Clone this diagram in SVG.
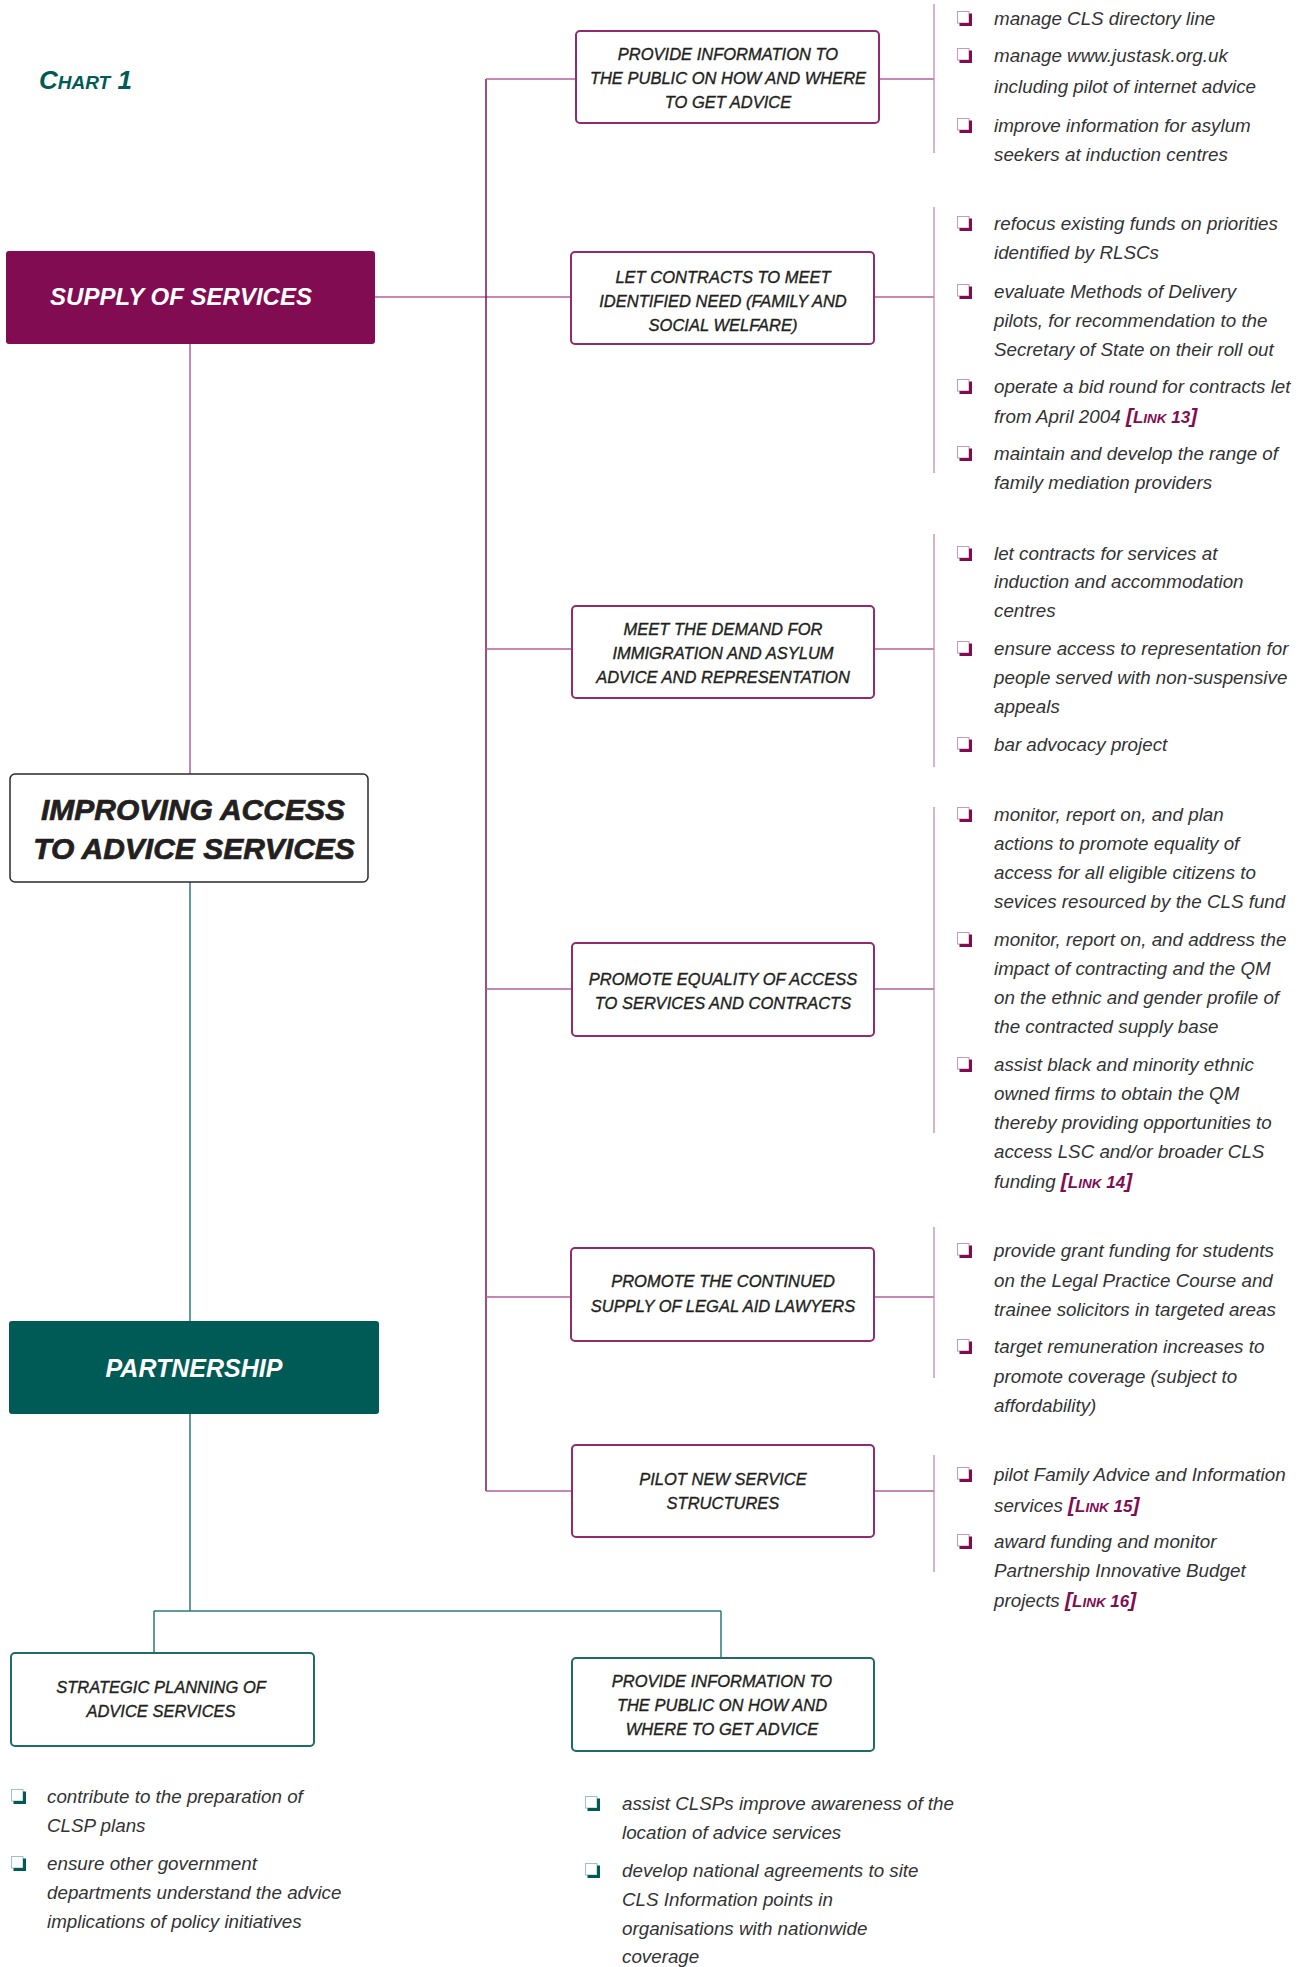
<svg xmlns="http://www.w3.org/2000/svg" xmlns:xlink="http://www.w3.org/1999/xlink" width="1308" height="1967" viewBox="0 0 1308 1967">
<style>
.bg{fill:#fff}
.box{fill:#fff;stroke:#8f2d6c;stroke-width:2}
.tbox{fill:#fff;stroke:#1f6b66;stroke-width:2}
.lbl{font-family:"Liberation Sans",Arial,sans-serif;font-style:italic;font-size:16.5px;fill:#231f20;stroke:#231f20;stroke-width:0.35;text-anchor:middle}
.it{font-family:"Liberation Sans",Arial,sans-serif;font-style:italic;font-size:18.8px;fill:#333}
.lk{fill:#820c52;font-weight:bold}
.big{font-family:"Liberation Sans",Arial,sans-serif;font-style:italic;font-weight:bold;text-anchor:middle}
.conM{stroke:#b4629a;stroke-width:1.5;fill:none}
.trunk{stroke:#7d1356;stroke-width:1.5;fill:none}
.bar{stroke:#c48aad;stroke-width:1.3;fill:none}
.conT{stroke:#2d7c76;stroke-width:1.5;fill:none}
</style>
<defs>
<g id="cbm"><rect x="0.5" y="0.5" width="11.5" height="11.5" fill="#fff" stroke="#c79ab6" stroke-width="1"/><path d="M2.5 13.5 H13.5 V2.5" stroke="#820c52" stroke-width="3" fill="none"/></g>
<g id="cbt"><rect x="0.5" y="0.5" width="11.5" height="11.5" fill="#fff" stroke="#9cc3bf" stroke-width="1"/><path d="M2.5 13.5 H13.5 V2.5" stroke="#005a55" stroke-width="3" fill="none"/></g>
</defs>
<rect class="bg" x="0" y="0" width="1308" height="1967"/>

<text id="title" x="39" y="89" font-family="'Liberation Sans',Arial,sans-serif" font-style="italic" font-weight="bold" fill="#005a55" font-size="26">C<tspan font-size="19">HART</tspan> 1</text>

<g id="connectors">
<path class="conM" d="M190 343 V774"/>
<path class="conT" d="M190 882 V1321"/>
<path class="conT" d="M190 1414 V1611 M154 1611 H721 M154 1611 V1653 M721 1611 V1658"/>
<path class="conM" d="M375 297 H571"/>
<path class="trunk" d="M486 79 V1491"/>
<path class="conM" d="M486 79 H576 M486 649 H572 M486 989 H572 M486 1297 H571 M486 1491 H572"/>
<path class="conM" d="M879 79 H934 M874 297 H934 M874 649 H934 M874 989 H934 M874 1297 H934 M874 1491 H934"/>
<path class="bar" d="M934 4 V153 M934 207 V473 M934 534 V767 M934 807 V1133 M934 1227 V1378 M934 1455 V1572"/>
</g>

<g id="supply">
<rect x="6" y="251" width="369" height="93" rx="3" fill="#820c52"/>
<text class="big" x="181" y="305" font-size="24" fill="#fff">SUPPLY OF SERVICES</text>
</g>

<g id="improving">
<rect x="10" y="774" width="358" height="108" rx="5" fill="#fff" stroke="#2a2a2a" stroke-width="1.5"/>
<text class="big" x="193" y="820" font-size="30" fill="#231f20" stroke="#231f20" stroke-width="0.7">IMPROVING ACCESS</text>
<text class="big" x="194" y="859" font-size="30" fill="#231f20" stroke="#231f20" stroke-width="0.7">TO ADVICE SERVICES</text>
</g>

<g id="partnership">
<rect x="9" y="1321" width="370" height="93" rx="3" fill="#005a55"/>
<text class="big" x="194" y="1377" font-size="25" fill="#fff">PARTNERSHIP</text>
</g>

<g id="n1">
<rect class="box" x="576" y="31" width="303" height="92" rx="4"/>
<text class="lbl" x="728" y="60">PROVIDE INFORMATION TO</text>
<text class="lbl" x="728" y="84">THE PUBLIC ON HOW AND WHERE</text>
<text class="lbl" x="728" y="108">TO GET ADVICE</text>
</g>
<g id="n1b">
<use xlink:href="#cbm" x="957" y="11"/>
<text class="it" x="994" y="25">manage CLS directory line</text>
<use xlink:href="#cbm" x="957" y="48"/>
<text class="it" x="994" y="62">manage www.justask.org.uk</text>
<text class="it" x="994" y="93">including pilot of internet advice</text>
<use xlink:href="#cbm" x="957" y="118"/>
<text class="it" x="994" y="132">improve information for asylum</text>
<text class="it" x="994" y="161">seekers at induction centres</text>
</g>

<g id="n2">
<rect class="box" x="571" y="252" width="303" height="92" rx="4"/>
<text class="lbl" x="723" y="283">LET CONTRACTS TO MEET</text>
<text class="lbl" x="723" y="307">IDENTIFIED NEED (FAMILY AND</text>
<text class="lbl" x="723" y="331">SOCIAL WELFARE)</text>
</g>
<g id="n2b">
<use xlink:href="#cbm" x="957" y="216"/>
<text class="it" x="994" y="230">refocus existing funds on priorities</text>
<text class="it" x="994" y="259">identified by RLSCs</text>
<use xlink:href="#cbm" x="957" y="284"/>
<text class="it" x="994" y="298">evaluate Methods of Delivery</text>
<text class="it" x="994" y="327">pilots, for recommendation to the</text>
<text class="it" x="994" y="356">Secretary of State on their roll out</text>
<use xlink:href="#cbm" x="957" y="379"/>
<text class="it" x="994" y="393">operate a bid round for contracts let</text>
<text class="it" x="994" y="423">from April 2004 <tspan class="lk" font-size="21">[<tspan font-size="17">L</tspan><tspan font-size="13.5">INK</tspan><tspan font-size="17"> 13</tspan>]</tspan></text>
<use xlink:href="#cbm" x="957" y="446"/>
<text class="it" x="994" y="460">maintain and develop the range of</text>
<text class="it" x="994" y="489">family mediation providers</text>
</g>

<g id="n3">
<rect class="box" x="572" y="606" width="302" height="92" rx="4"/>
<text class="lbl" x="723" y="635">MEET THE DEMAND FOR</text>
<text class="lbl" x="723" y="659">IMMIGRATION AND ASYLUM</text>
<text class="lbl" x="723" y="683">ADVICE AND REPRESENTATION</text>
</g>
<g id="n3b">
<use xlink:href="#cbm" x="957" y="546"/>
<text class="it" x="994" y="560">let contracts for services at</text>
<text class="it" x="994" y="588">induction and accommodation</text>
<text class="it" x="994" y="617">centres</text>
<use xlink:href="#cbm" x="957" y="641"/>
<text class="it" x="994" y="655">ensure access to representation for</text>
<text class="it" x="994" y="684">people served with non-suspensive</text>
<text class="it" x="994" y="713">appeals</text>
<use xlink:href="#cbm" x="957" y="737"/>
<text class="it" x="994" y="751">bar advocacy project</text>
</g>

<g id="n4">
<rect class="box" x="572" y="943" width="302" height="93" rx="4"/>
<text class="lbl" x="723" y="985">PROMOTE EQUALITY OF ACCESS</text>
<text class="lbl" x="723" y="1009">TO SERVICES AND CONTRACTS</text>
</g>
<g id="n4b">
<use xlink:href="#cbm" x="957" y="807"/>
<text class="it" x="994" y="821">monitor, report on, and plan</text>
<text class="it" x="994" y="850">actions to promote equality of</text>
<text class="it" x="994" y="879">access for all eligible citizens to</text>
<text class="it" x="994" y="908">sevices resourced by the CLS fund</text>
<use xlink:href="#cbm" x="957" y="932"/>
<text class="it" x="994" y="946">monitor, report on, and address the</text>
<text class="it" x="994" y="975">impact of contracting and the QM</text>
<text class="it" x="994" y="1004">on the ethnic and gender profile of</text>
<text class="it" x="994" y="1033">the contracted supply base</text>
<use xlink:href="#cbm" x="957" y="1057"/>
<text class="it" x="994" y="1071">assist black and minority ethnic</text>
<text class="it" x="994" y="1100">owned firms to obtain the QM</text>
<text class="it" x="994" y="1129">thereby providing opportunities to</text>
<text class="it" x="994" y="1158">access LSC and/or broader CLS</text>
<text class="it" x="994" y="1188">funding <tspan class="lk" font-size="21">[<tspan font-size="17">L</tspan><tspan font-size="13.5">INK</tspan><tspan font-size="17"> 14</tspan>]</tspan></text>
</g>

<g id="n5">
<rect class="box" x="571" y="1248" width="303" height="93" rx="4"/>
<text class="lbl" x="723" y="1287">PROMOTE THE CONTINUED</text>
<text class="lbl" x="723" y="1312">SUPPLY OF LEGAL AID LAWYERS</text>
</g>
<g id="n5b">
<use xlink:href="#cbm" x="957" y="1243"/>
<text class="it" x="994" y="1257">provide grant funding for students</text>
<text class="it" x="994" y="1287">on the Legal Practice Course and</text>
<text class="it" x="994" y="1316">trainee solicitors in targeted areas</text>
<use xlink:href="#cbm" x="957" y="1339"/>
<text class="it" x="994" y="1353">target remuneration increases to</text>
<text class="it" x="994" y="1383">promote coverage (subject to</text>
<text class="it" x="994" y="1412">affordability)</text>
</g>

<g id="n6">
<rect class="box" x="572" y="1445" width="302" height="92" rx="4"/>
<text class="lbl" x="723" y="1485">PILOT NEW SERVICE</text>
<text class="lbl" x="723" y="1509">STRUCTURES</text>
</g>
<g id="n6b">
<use xlink:href="#cbm" x="957" y="1467"/>
<text class="it" x="994" y="1481">pilot Family Advice and Information</text>
<text class="it" x="994" y="1512">services <tspan class="lk" font-size="21">[<tspan font-size="17">L</tspan><tspan font-size="13.5">INK</tspan><tspan font-size="17"> 15</tspan>]</tspan></text>
<use xlink:href="#cbm" x="957" y="1534"/>
<text class="it" x="994" y="1548">award funding and monitor</text>
<text class="it" x="994" y="1577">Partnership Innovative Budget</text>
<text class="it" x="994" y="1607">projects <tspan class="lk" font-size="21">[<tspan font-size="17">L</tspan><tspan font-size="13.5">INK</tspan><tspan font-size="17"> 16</tspan>]</tspan></text>
</g>

<g id="n7">
<rect class="tbox" x="11" y="1653" width="303" height="93" rx="4"/>
<text class="lbl" x="161" y="1693">STRATEGIC PLANNING OF</text>
<text class="lbl" x="161" y="1717">ADVICE SERVICES</text>
</g>
<g id="n7b">
<use xlink:href="#cbt" x="11" y="1789"/>
<text class="it" x="47" y="1803">contribute to the preparation of</text>
<text class="it" x="47" y="1832">CLSP plans</text>
<use xlink:href="#cbt" x="11" y="1856"/>
<text class="it" x="47" y="1870">ensure other government</text>
<text class="it" x="47" y="1899">departments understand the advice</text>
<text class="it" x="47" y="1928">implications of policy initiatives</text>
</g>

<g id="n8">
<rect class="tbox" x="572" y="1658" width="302" height="93" rx="4"/>
<text class="lbl" x="722" y="1687">PROVIDE INFORMATION TO</text>
<text class="lbl" x="722" y="1711">THE PUBLIC ON HOW AND</text>
<text class="lbl" x="722" y="1735">WHERE TO GET ADVICE</text>
</g>
<g id="n8b">
<use xlink:href="#cbt" x="585" y="1796"/>
<text class="it" x="622" y="1810">assist CLSPs improve awareness of the</text>
<text class="it" x="622" y="1839">location of advice services</text>
<use xlink:href="#cbt" x="585" y="1863"/>
<text class="it" x="622" y="1877">develop national agreements to site</text>
<text class="it" x="622" y="1906">CLS Information points in</text>
<text class="it" x="622" y="1935">organisations with nationwide</text>
<text class="it" x="622" y="1963">coverage</text>
</g>
</svg>
